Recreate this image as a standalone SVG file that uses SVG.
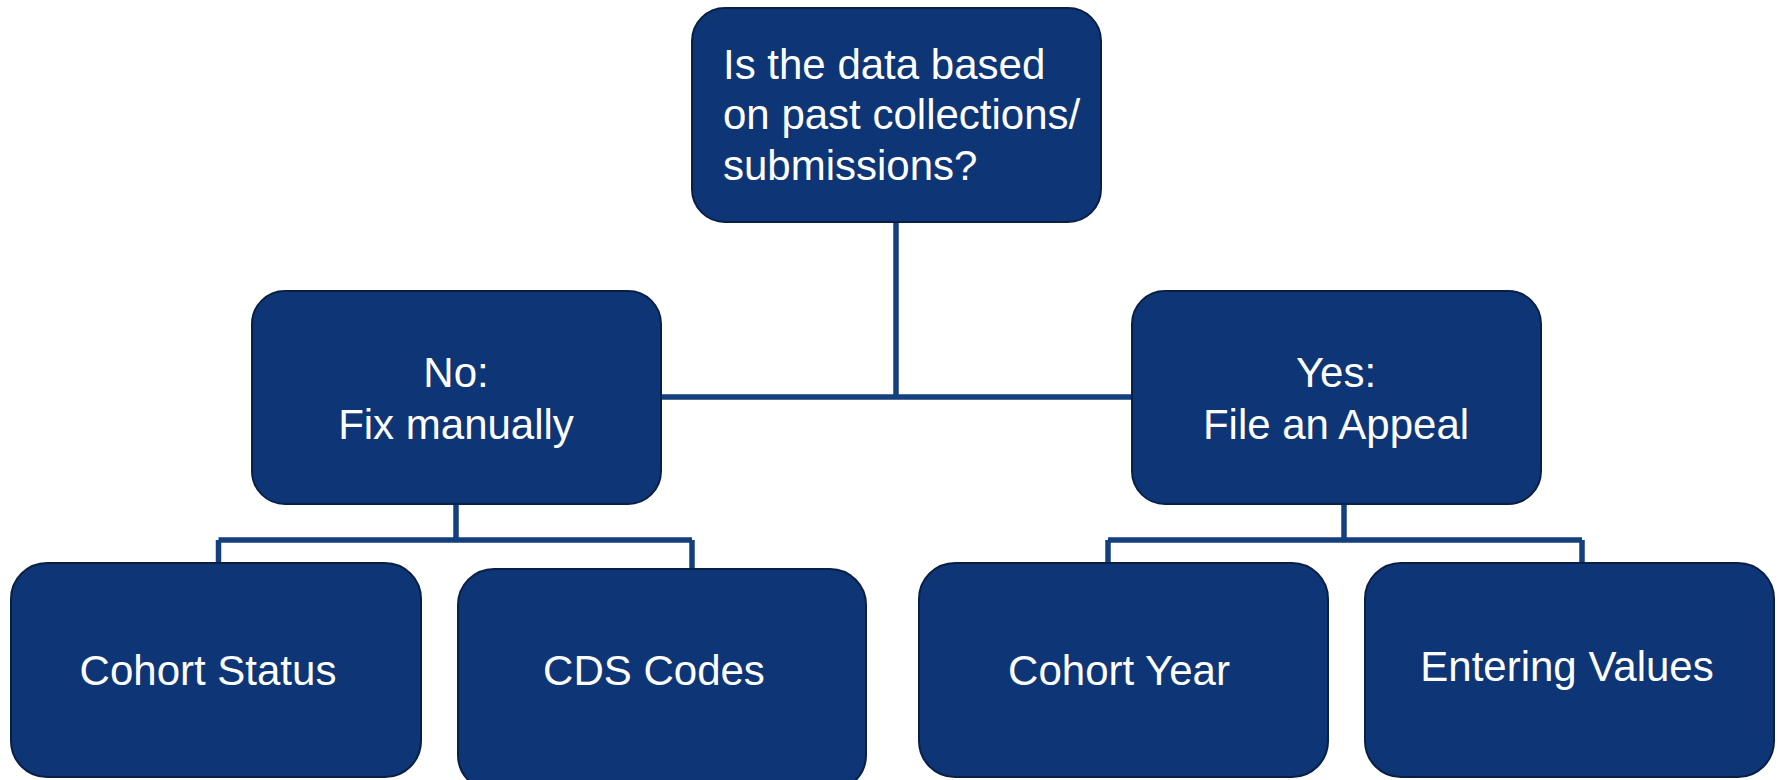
<svg xmlns="http://www.w3.org/2000/svg" width="1779" height="780" viewBox="0 0 1779 780">
<style>
.box{fill:#0E3677;stroke:#0A1F44;stroke-width:2}
.lbl{font-family:"Liberation Sans",Arial,sans-serif;font-size:42px;fill:#FFFFFF}
.c{text-anchor:middle}
.conn{fill:none;stroke:#15407E;stroke-width:5.5}
</style>
<rect width="1779" height="780" fill="#FFFFFF"/>
<g id="connectors">
<path class="conn" d="M896 222 V397 M661 397 H1132"/>
<path class="conn" d="M456 504 V540 M218.5 540 H692 M218.5 540 V563 M692 540 V569"/>
<path class="conn" d="M1344 504 V540 M1108 540 H1582 M1108 540 V563 M1582 540 V563"/>
</g>
<g id="node-question">
<rect class="box" x="692" y="8" width="409" height="214" rx="33"/>
<text class="lbl" x="723" y="79">Is the data based</text>
<text class="lbl" x="723" y="129">on past collections/</text>
<text class="lbl" x="723" y="180">submissions?</text>
</g>
<g id="node-no">
<rect class="box" x="252" y="291" width="409" height="213" rx="33"/>
<text class="lbl c" x="456" y="387">No:</text>
<text class="lbl c" x="456" y="439">Fix manually</text>
</g>
<g id="node-yes">
<rect class="box" x="1132" y="291" width="409" height="213" rx="33"/>
<text class="lbl c" x="1336" y="387">Yes:</text>
<text class="lbl c" x="1336" y="439">File an Appeal</text>
</g>
<g id="node-cohort-status">
<rect class="box" x="11" y="563" width="410" height="214" rx="36"/>
<text class="lbl c" x="208" y="685">Cohort Status</text>
</g>
<g id="node-cds-codes">
<rect class="box" x="458" y="569" width="408" height="222" rx="36"/>
<text class="lbl c" x="654" y="685">CDS Codes</text>
</g>
<g id="node-cohort-year">
<rect class="box" x="919" y="563" width="409" height="214" rx="36"/>
<text class="lbl c" x="1119" y="685">Cohort Year</text>
</g>
<g id="node-entering-values">
<rect class="box" x="1365" y="563" width="409" height="214" rx="36"/>
<text class="lbl c" x="1567" y="681">Entering Values</text>
</g>
</svg>
